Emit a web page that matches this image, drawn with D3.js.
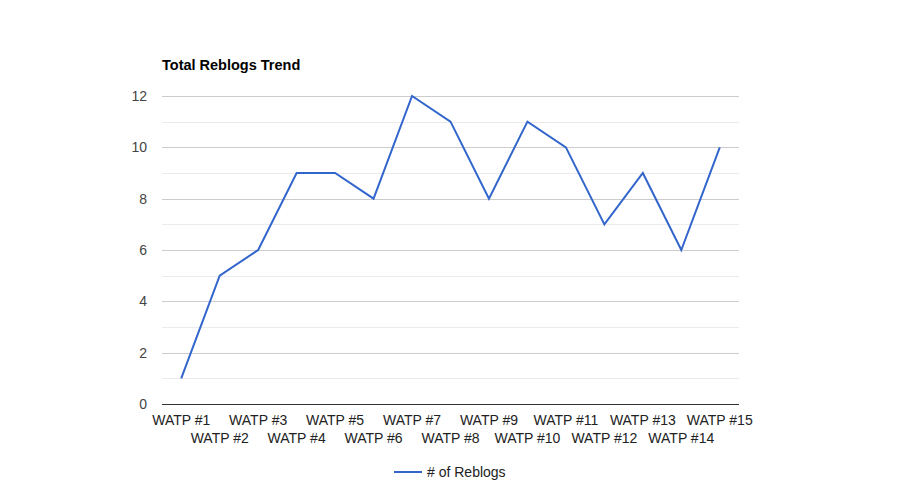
<!DOCTYPE html>
<html>
<head>
<meta charset="utf-8">
<script src="https://cdn.jsdelivr.net/npm/d3@7"></script>
<style>
body { margin: 0; background: #fff; font-family: Arial, "Liberation Sans", sans-serif; }
</style>
</head>
<body>
<div id="chart"></div>
<script>
var episodes = ["WATP #1","WATP #2","WATP #3","WATP #4","WATP #5","WATP #6","WATP #7","WATP #8",
    "WATP #9","WATP #10","WATP #11","WATP #12","WATP #13","WATP #14","WATP #15"];
var reblogs = [1,5,6,9,9,8,12,11,8,11,10,7,9,6,10];
var yTicks = [0,2,4,6,8,10,12];
var minorTicks = [1,3,5,7,9,11];

var svgWidth = 900, svgHeight = 500;
var margin = { top: 96, right: 161, bottom: 96, left: 162 };
var width = svgWidth - margin.left - margin.right;
var height = svgHeight - margin.top - margin.bottom;

var svg = d3.select("#chart").append("svg").attr("width", svgWidth).attr("height", svgHeight);
var g = svg.append("g").attr("transform", "translate(" + margin.left + "," + margin.top + ")");

var x = d3.scaleBand().domain(episodes).range([0, width]);
var y = d3.scaleLinear().domain([0, 12]).range([height, 0]);

// title
svg.append("text").attr("x", margin.left).attr("y", 70)
    .style("font-size", "14.5px").style("font-weight", "bold").attr("fill", "#000")
    .text("Total Reblogs Trend");

// gridlines
g.selectAll(".minor").data(minorTicks).enter().append("line")
    .attr("x1", 0).attr("x2", width)
    .attr("y1", function (d) { return Math.round(y(d)) + 0.5; })
    .attr("y2", function (d) { return Math.round(y(d)) + 0.5; })
    .attr("stroke", "#ebebeb");
g.selectAll(".major").data(yTicks.filter(function (d) { return d > 0; })).enter().append("line")
    .attr("x1", 0).attr("x2", width)
    .attr("y1", function (d) { return Math.round(y(d)) + 0.5; })
    .attr("y2", function (d) { return Math.round(y(d)) + 0.5; })
    .attr("stroke", "#cccccc");

// y labels
g.selectAll(".ylab").data(yTicks).enter().append("text")
    .attr("x", -15).attr("y", function (d) { return y(d) + 5; })
    .attr("text-anchor", "end").style("font-size", "14px").attr("fill", "#444")
    .text(function (d) { return d; });

// x labels, alternating rows
g.selectAll(".xlab").data(episodes).enter().append("text")
    .attr("x", function (d) { return x(d) + x.bandwidth() / 2; })
    .attr("y", function (d, i) { return height + (i % 2 == 0 ? 21 : 39); })
    .attr("text-anchor", "middle").style("font-size", "14px").attr("fill", "#222")
    .text(function (d) { return d; });

// the line
var line = d3.line()
    .x(function (d, i) { return x(episodes[i]) + x.bandwidth() / 2; })
    .y(function (d) { return y(d); });
g.append("path").datum(reblogs).attr("d", line)
    .attr("fill", "none").attr("stroke", "#3366cc").attr("stroke-width", 2);

// baseline
g.append("line").attr("x1", 0).attr("x2", width)
    .attr("y1", Math.round(y(0)) + 0.5).attr("y2", Math.round(y(0)) + 0.5)
    .attr("stroke", "#333");

// legend
var lg = svg.append("g").attr("transform", "translate(394,472)");
lg.append("line").attr("x1", 0).attr("x2", 28).attr("y1", 0).attr("y2", 0)
    .attr("stroke", "#3366cc").attr("stroke-width", 2);
lg.append("text").attr("x", 33).attr("y", 5).style("font-size", "14px").attr("fill", "#222")
    .text("# of Reblogs");
</script>
</body>
</html>
